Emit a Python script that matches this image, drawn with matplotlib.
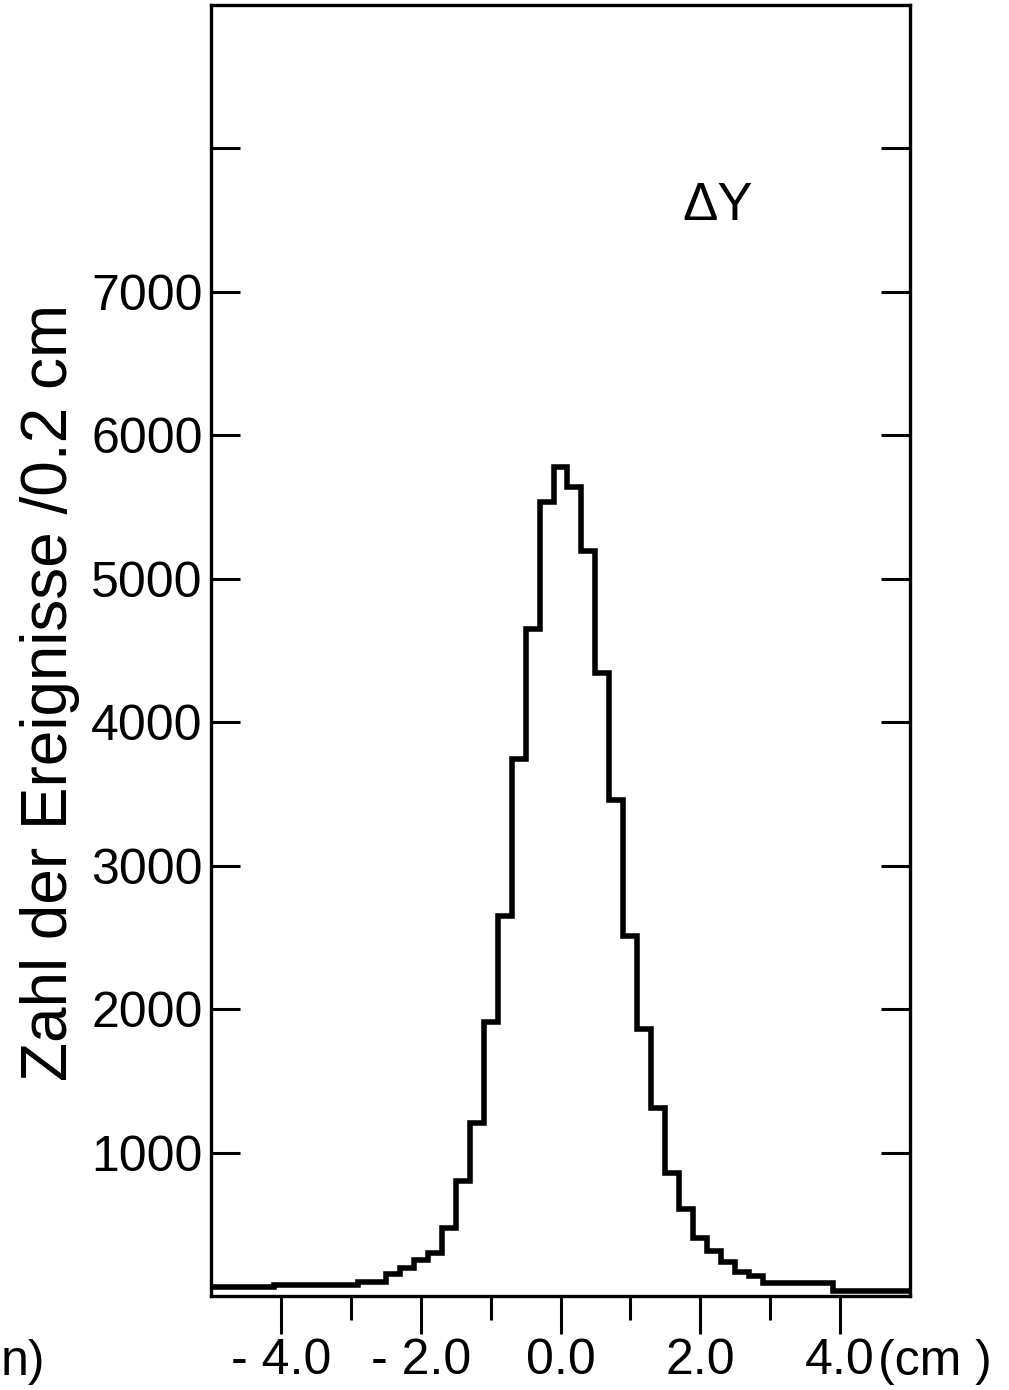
import numpy as np
import matplotlib
matplotlib.use("Agg")
import matplotlib.pyplot as plt

# counts per 0.2 cm bin, bin centres from -5.0 to 5.0 cm
bin_width = 0.2
counts = [
    63, 63, 63, 63, 63,
    77, 77, 77, 77, 77, 77,
    100, 100,
    151, 197, 248, 301, 475, 803, 1208, 1910, 2651, 3743, 4648, 5537,
    5780,
    5642, 5197, 4340, 3456, 2512, 1864, 1308, 857, 607, 405, 312, 239, 167, 139,
    88, 88, 88, 88, 88,
    35, 35, 35, 35, 35, 35,
]
y_ticks = [1000, 2000, 3000, 4000, 5000, 6000, 7000, 8000]
y_labels = ["1000", "2000", "3000", "4000", "5000", "6000", "7000", ""]
x_major = [-4.0, -2.0, 0.0, 2.0, 4.0]
x_labels = ["- 4.0", "- 2.0", "0.0", "2.0", "4.0"]
x_minor = [-3.0, -1.0, 1.0, 3.0]

FONT = ["Liberation Sans", "DejaVu Sans"]
plt.rcParams["font.family"] = FONT

W, H = 1009, 1390
fig = plt.figure(figsize=(W / 100, H / 100), dpi=100)
ax = fig.add_axes([211 / W, 1 - 1296 / H, (910 - 211) / W, (1296 - 5) / H])

n = len(counts)
edges = -5.0 - bin_width / 2 + bin_width * np.arange(n + 1)
ax.stairs(counts, edges, color="black", lw=4.0, baseline=None)

ax.set_xlim(-5.0, 5.0)
ax.set_ylim(0, 9000)

for s in ax.spines.values():
    s.set_linewidth(2.4)

ax.set_yticks(y_ticks)
ax.set_yticklabels(y_labels)
ax.tick_params(axis="y", direction="in", length=21, width=2.2, left=True,
               right=True, labelsize=36, pad=6)

ax.set_xticks(x_major)
ax.set_xticklabels(x_labels)
ax.set_xticks(x_minor, minor=True)
ax.tick_params(axis="x", which="major", direction="out", length=27, width=2.2,
               labelsize=36, pad=3, top=False)
ax.tick_params(axis="x", which="minor", direction="out", length=17, width=2.2,
               top=False)

ax.text(2.25, 7600, "ΔY", ha="center", va="center", fontsize=38)

fig.text(50 / W, 1 - 692 / H, "Zahl der Ereignisse /0.2 cm", rotation=90,
         ha="center", va="center", fontsize=46)
fig.text(878 / W, 1 - 1362 / H, "(cm )", ha="left", va="center", fontsize=36)
# remnant of the neighbouring panel's axis label at the left edge
fig.text(1 / W, 1 - 1362 / H, "n)", ha="left", va="center", fontsize=36)

fig.savefig("out.png", dpi=100)
